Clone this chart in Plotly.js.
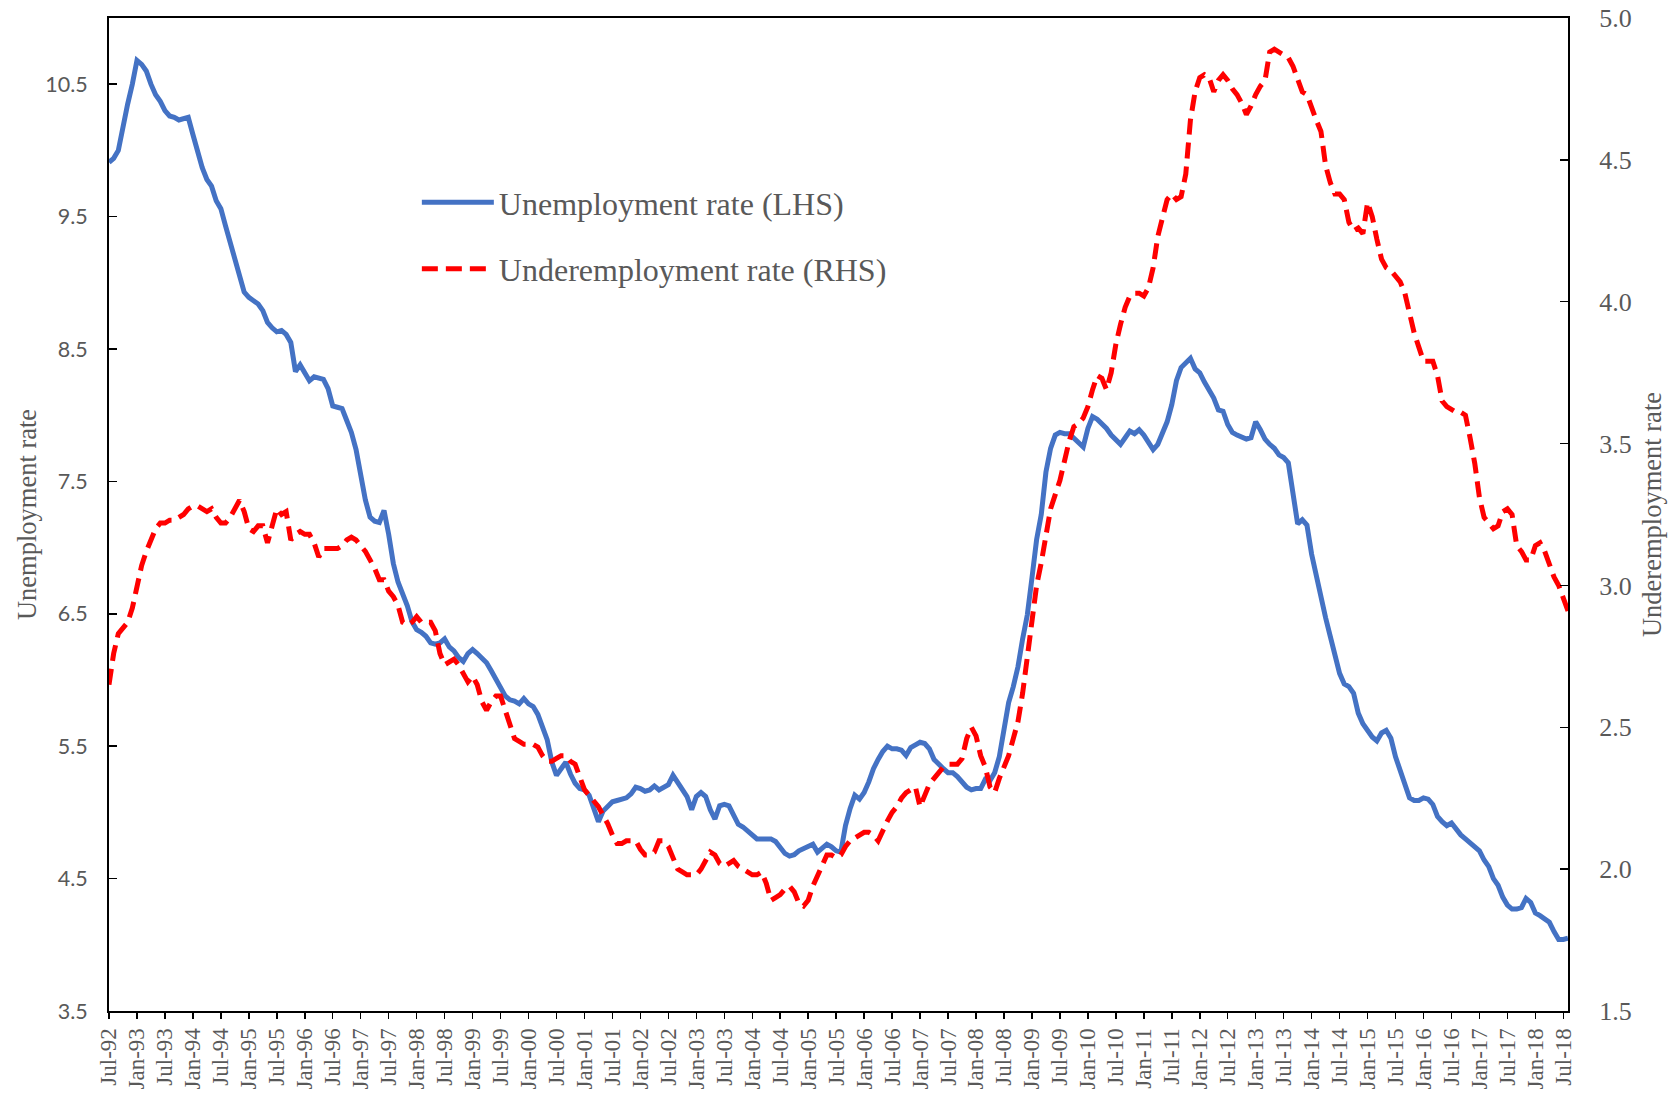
<!DOCTYPE html>
<html>
<head>
<meta charset="utf-8">
<script src="https://cdn.plot.ly/plotly-3.0.1.min.js"></script>
<style>html,body{margin:0;padding:0;background:#fff;}#chart{width:1677px;height:1093px;}</style>
</head>
<body>
<div id="chart"></div>
<script>
// Monthly observations, Jul-92 .. Aug-18
const monthNames = ['Jan','Feb','Mar','Apr','May','Jun','Jul','Aug','Sep','Oct','Nov','Dec'];
const startYear = 1992, startMonthIdx = 6, nMonths = 314;
const categories = [];
for (let i = 0; i < nMonths; i++) {
  const mi = (startMonthIdx + i) % 12;
  const yr = startYear + Math.floor((startMonthIdx + i) / 12);
  categories.push(monthNames[mi] + '-' + String(yr % 100).padStart(2, '0'));
}

// Unemployment rate (LHS)
const unemployment = [
  9.91, 9.94, 10.0, 10.2, 10.35, 10.5, 10.68, 10.65, 10.6, 10.5, 10.42, 10.37,
  10.3, 10.26, 10.25, 10.23, 10.24, 10.25, 10.12, 9.98, 9.87, 9.78, 9.73, 9.62,
  9.56, 9.43, 9.30, 9.17, 9.03, 8.93, 8.89, 8.87, 8.84, 8.79, 8.70, 8.66,
  8.63, 8.64, 8.61, 8.55, 8.33, 8.38, 8.32, 8.26, 8.29, 8.28, 8.27, 8.20,
  8.07, 8.06, 8.05, 7.96, 7.87, 7.74, 7.55, 7.36, 7.23, 7.20, 7.19, 7.28,
  7.10, 6.88, 6.74, 6.66, 6.56, 6.44, 6.38, 6.36, 6.33, 6.28, 6.27, 6.28,
  6.31, 6.25, 6.22, 6.17, 6.14, 6.20, 6.23, 6.20, 6.16, 6.13, 6.07, 6.00,
  5.93, 5.88, 5.85, 5.84, 5.82, 5.86, 5.82, 5.80, 5.74, 5.63, 5.55, 5.38,
  5.28, 5.33, 5.38, 5.29, 5.22, 5.18, 5.17, 5.13, 5.03, 4.93, 5.01, 5.05,
  5.08, 5.09, 5.10, 5.11, 5.14, 5.19, 5.18, 5.16, 5.17, 5.20, 5.17, 5.19,
  5.21, 5.28, 5.23, 5.17, 5.12, 5.02, 5.12, 5.15, 5.12, 5.02, 4.95, 5.05,
  5.06, 5.05, 4.97, 4.91, 4.89, 4.86, 4.82, 4.80, 4.80, 4.80, 4.80, 4.78,
  4.73, 4.69, 4.67, 4.68, 4.71, 4.73, 4.74, 4.76, 4.70, 4.73, 4.76, 4.74,
  4.71, 4.70, 4.90, 5.03, 5.13, 5.10, 5.15, 5.23, 5.33, 5.40, 5.46, 5.50,
  5.48, 5.48, 5.47, 5.43, 5.49, 5.51, 5.53, 5.52, 5.48, 5.40, 5.36, 5.33,
  5.30, 5.30, 5.27, 5.23, 5.19, 5.17, 5.18, 5.18, 5.25, 5.24, 5.30, 5.42,
  5.65, 5.83, 5.95, 6.10, 6.31, 6.49, 6.77, 7.06, 7.25, 7.57, 7.75, 7.85,
  7.87, 7.86, 7.86, 7.83, 7.79, 7.76, 7.90, 7.99, 7.97, 7.94, 7.90, 7.85,
  7.81, 7.78, 7.83, 7.88, 7.86, 7.89, 7.85, 7.79, 7.74, 7.78, 7.86, 7.95,
  8.08, 8.26, 8.36, 8.40, 8.43, 8.35, 8.32, 8.25, 8.19, 8.13, 8.04, 8.03,
  7.93, 7.87, 7.85, 7.83, 7.82, 7.83, 7.95, 7.89, 7.82, 7.78, 7.75, 7.70,
  7.68, 7.64, 7.38, 7.18, 7.21, 7.17, 6.95, 6.78, 6.62, 6.47, 6.33, 6.19,
  6.05, 5.97, 5.95, 5.90, 5.75, 5.67, 5.62, 5.57, 5.54, 5.60, 5.62, 5.56,
  5.42, 5.32, 5.22, 5.11, 5.09, 5.09, 5.11, 5.10, 5.06, 4.97, 4.93, 4.90,
  4.92, 4.87, 4.83, 4.80, 4.77, 4.74, 4.71, 4.64, 4.59, 4.50, 4.45, 4.36,
  4.30, 4.27, 4.27, 4.28, 4.35, 4.32, 4.24, 4.22, 4.19, 4.17, 4.10, 4.04,
  4.04, 4.05
];

// Underemployment rate (RHS)
const underemployment = [
  2.65, 2.76, 2.83, 2.85, 2.87, 2.92, 3.00, 3.07, 3.12, 3.16, 3.20, 3.22,
  3.22, 3.23, 3.23, 3.24, 3.25, 3.27, 3.28, 3.28, 3.27, 3.26, 3.27, 3.24,
  3.22, 3.22, 3.24, 3.27, 3.30, 3.26, 3.20, 3.19, 3.21, 3.21, 3.15, 3.21,
  3.27, 3.25, 3.26, 3.16, 3.18, 3.19, 3.18, 3.18, 3.15, 3.10, 3.13, 3.13,
  3.13, 3.13, 3.14, 3.16, 3.17, 3.16, 3.14, 3.12, 3.09, 3.06, 3.02, 3.02,
  2.98, 2.96, 2.93, 2.87, 2.86, 2.87, 2.89, 2.87, 2.87, 2.87, 2.84, 2.76,
  2.72, 2.73, 2.74, 2.72, 2.69, 2.66, 2.68, 2.65, 2.59, 2.56, 2.59, 2.61,
  2.61, 2.56, 2.50, 2.46, 2.45, 2.44, 2.44, 2.44, 2.43, 2.40, 2.38, 2.38,
  2.39, 2.40, 2.40, 2.38, 2.37, 2.33, 2.28, 2.26, 2.24, 2.22, 2.19, 2.16,
  2.12, 2.09, 2.09, 2.10, 2.10, 2.10, 2.07, 2.05, 2.05, 2.06, 2.10, 2.10,
  2.08, 2.04, 2.00, 1.99, 1.98, 1.98, 1.98, 2.00, 2.03, 2.06, 2.05, 2.02,
  2.01, 2.02, 2.03, 2.01, 2.00, 1.99, 1.98, 1.98, 1.99, 1.95, 1.89, 1.90,
  1.91, 1.93, 1.94, 1.92, 1.88, 1.87, 1.89, 1.94, 1.98, 2.01, 2.05, 2.05,
  2.04, 2.05, 2.08, 2.10, 2.11, 2.12, 2.13, 2.13, 2.12, 2.10, 2.14, 2.17,
  2.20, 2.22, 2.25, 2.27, 2.28, 2.29, 2.22, 2.26, 2.30, 2.32, 2.34, 2.36,
  2.37, 2.37, 2.37, 2.39, 2.46, 2.50, 2.47, 2.40, 2.36, 2.29, 2.27, 2.32,
  2.36, 2.40, 2.46, 2.52, 2.62, 2.75, 2.89, 3.00, 3.08, 3.18, 3.27, 3.32,
  3.37, 3.44, 3.51, 3.56, 3.57, 3.59, 3.63, 3.69, 3.74, 3.73, 3.69, 3.75,
  3.85, 3.92, 3.98, 4.02, 4.03, 4.03, 4.02, 4.05, 4.12, 4.23, 4.30, 4.36,
  4.38, 4.36, 4.37, 4.45, 4.64, 4.74, 4.79, 4.80, 4.79, 4.74, 4.78, 4.80,
  4.78, 4.75, 4.73, 4.70, 4.66, 4.69, 4.73, 4.76, 4.78, 4.88, 4.89, 4.88,
  4.87, 4.86, 4.83, 4.78, 4.74, 4.73, 4.68, 4.64, 4.60, 4.48, 4.42, 4.38,
  4.38, 4.36, 4.28, 4.25, 4.26, 4.24, 4.35, 4.30, 4.22, 4.15, 4.12, 4.11,
  4.09, 4.07, 4.03, 3.95, 3.89, 3.84, 3.79, 3.79, 3.79, 3.74, 3.65, 3.63,
  3.62, 3.61, 3.61, 3.60, 3.52, 3.43, 3.31, 3.24, 3.22, 3.20, 3.21, 3.26,
  3.27, 3.25, 3.14, 3.12, 3.09, 3.09, 3.14, 3.15, 3.12, 3.07, 3.03, 3.00,
  2.95, 2.91
];

// Axis tick labels
const xTickLabels = categories.filter((c, i) => i % 6 === 0);
const leftTicks = [3.5, 4.5, 5.5, 6.5, 7.5, 8.5, 9.5, 10.5];
const rightTicks = [1.5, 2.0, 2.5, 3.0, 3.5, 4.0, 4.5, 5.0];

const seriesNames = ['Unemployment rate (LHS)', 'Underemployment rate (RHS)'];
const axisTitles = ['Unemployment rate', 'Underemployment rate'];

const gray = '#595959';
const serif = 'Liberation Serif, Times New Roman, serif';

const traces = [
  {
    x: categories, y: unemployment, name: seriesNames[0], type: 'scatter', mode: 'lines',
    line: {color: '#4472C4', width: 5}, yaxis: 'y', legendgroup: 'a', hoverinfo: 'skip'
  },
  {
    x: categories, y: underemployment, name: seriesNames[1], type: 'scatter', mode: 'lines',
    line: {color: '#FF0000', width: 5, dash: '16px,8px'}, yaxis: 'y2', legendgroup: 'b', hoverinfo: 'skip'
  }
];

const layout = {
  width: 1677, height: 1093,
  margin: {l: 109, r: 109, t: 18, b: 82, pad: 0},
  paper_bgcolor: '#ffffff', plot_bgcolor: '#ffffff',
  font: {family: serif, color: gray},
  showlegend: true,
  legend: {
    x: 0.211, y: 0.842, xanchor: 'left', yanchor: 'top',
    bgcolor: 'rgba(0,0,0,0)', borderwidth: 0,
    font: {family: serif, size: 32, color: gray},
    tracegroupgap: 22, traceorder: 'grouped', itemwidth: 72
  },
  xaxis: {
    type: 'category', categoryorder: 'array', categoryarray: categories,
    range: [0, nMonths - 1],
    tickmode: 'array', tickvals: xTickLabels, ticktext: xTickLabels,
    tickangle: -90, ticks: 'outside', ticklen: 6, tickwidth: 1.5, tickcolor: '#000',
    tickfont: {family: serif, size: 23, color: gray},
    showline: true, linecolor: '#000', linewidth: 2, mirror: true,
    showgrid: false, zeroline: false, fixedrange: true
  },
  yaxis: {
    range: [3.5, 11.0], tickmode: 'array', tickvals: leftTicks, tickformat: '.1f',
    ticks: 'inside', ticklen: 8, tickwidth: 1.5, tickcolor: '#000',
    ticklabelstandoff: 15,
    tickfont: {family: 'Lato, Liberation Sans, sans-serif', size: 21.5, color: gray},
    showline: true, linecolor: '#000', linewidth: 2,
    showgrid: false, zeroline: false, fixedrange: true,
    title: {text: axisTitles[0], font: {family: serif, size: 26.5, color: gray}, standoff: 1}
  },
  yaxis2: {
    overlaying: 'y', side: 'right',
    range: [1.5, 5.0], tickmode: 'array', tickvals: rightTicks, tickformat: '.1f',
    ticks: 'inside', ticklen: 8, tickwidth: 1.5, tickcolor: '#000',
    ticklabelstandoff: 24,
    tickfont: {family: serif, size: 26, color: gray},
    showline: true, linecolor: '#000', linewidth: 2,
    showgrid: false, zeroline: false, fixedrange: true,
    title: {text: axisTitles[1], font: {family: serif, size: 26.5, color: gray}, standoff: 12}
  },
  hovermode: false
};

Plotly.newPlot('chart', traces, layout, {displayModeBar: false, staticPlot: true});
</script>
</body>
</html>
